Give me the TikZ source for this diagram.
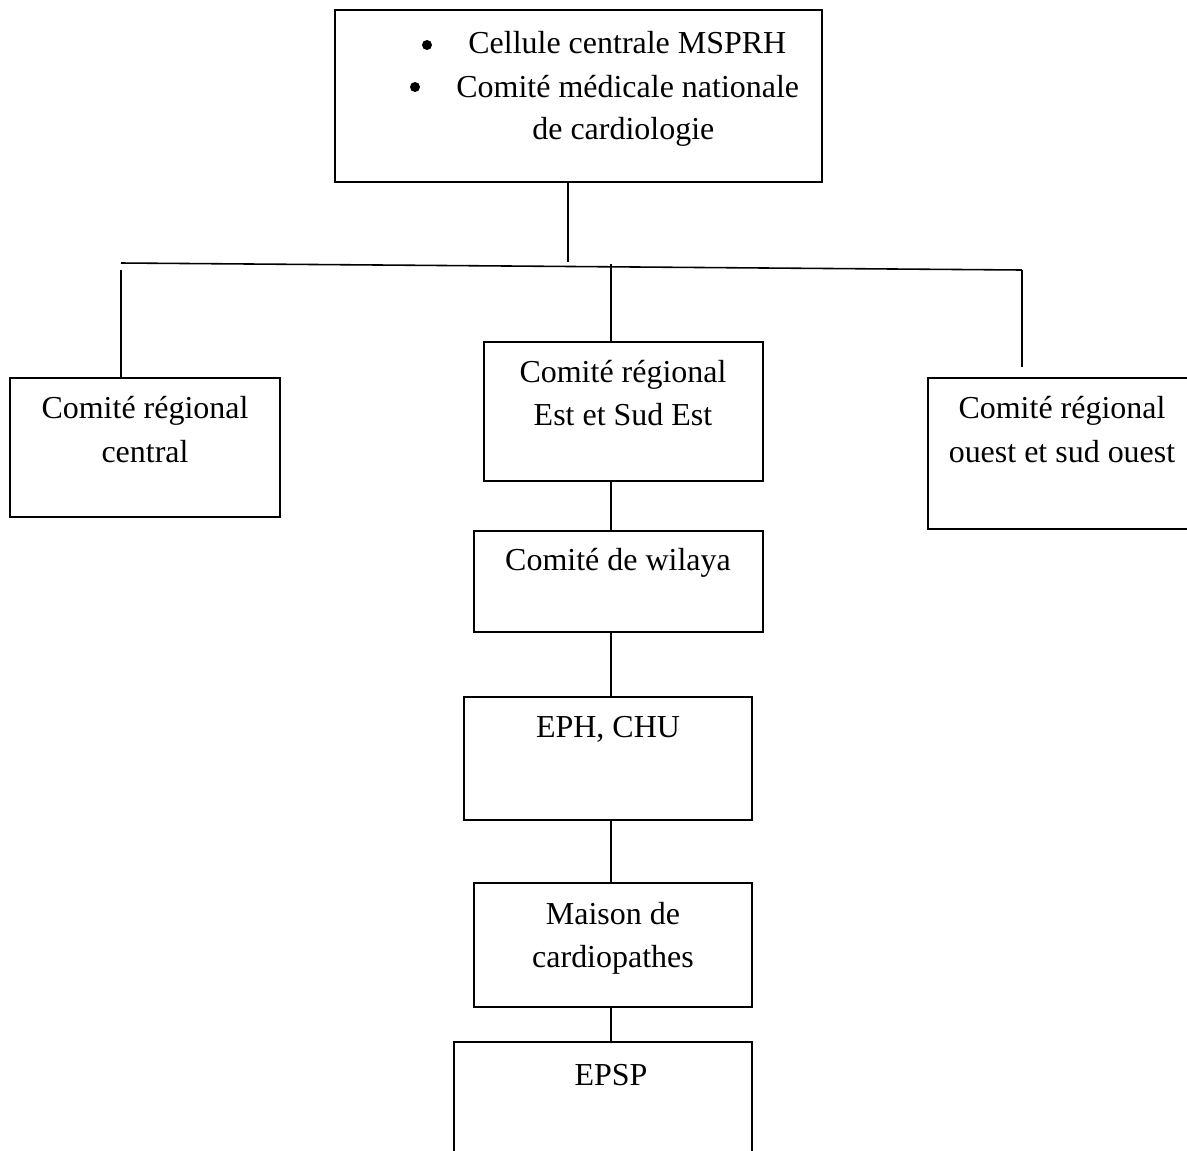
\documentclass[tikz,border=0pt]{standalone}
\usepackage{fontspec}
\setmainfont{Liberation Serif}
\begin{document}
\begin{tikzpicture}[x=0.02cm,y=-0.02cm,
  box/.style={draw, line width=0.9pt, rectangle, inner sep=0pt},
  txt/.style={anchor=base, inner sep=0pt, font=\fontsize{18.2}{24}\selectfont},
  bul/.style={circle, fill=black, inner sep=0pt, minimum size=10*0.02cm},
  conn/.style={line width=0.9pt}]
\clip (0,0) rectangle (1187,1150);
% boxes
\node[box, minimum width=487*0.02cm, minimum height=172*0.02cm] (top) at (578.5,96) {};
\node[box, minimum width=270*0.02cm, minimum height=139*0.02cm] (left) at (145,447.5) {};
\node[box, minimum width=279*0.02cm, minimum height=139*0.02cm] (mid) at (623.5,411.5) {};
\node[box, minimum width=290*0.02cm, minimum height=151*0.02cm] (right) at (1073,453.5) {};
\node[box, minimum width=289*0.02cm, minimum height=101*0.02cm] (wil) at (618.5,581.5) {};
\node[box, minimum width=288*0.02cm, minimum height=123*0.02cm] (eph) at (608,758.5) {};
\node[box, minimum width=278*0.02cm, minimum height=124*0.02cm] (mai) at (613,945) {};
\node[box, minimum width=298*0.02cm, minimum height=160*0.02cm] (epsp) at (603,1122) {};
% texts
\node[bul] (b1) at (427,45) {};
\node[txt, anchor=base west] (t1) at (468,53) {Cellule centrale MSPRH};
\node[bul] (b2) at (415,87) {};
\node[txt, anchor=base west] (t2) at (456,97) {Comité médicale nationale};
\node[txt, anchor=base west] (t3) at (532,139) {de cardiologie};
\node[txt] (l1) at (145,418) {Comité régional};
\node[txt] (l2) at (145,462) {central};
\node[txt] (m1) at (623,382) {Comité régional};
\node[txt] (m2) at (623,425) {Est et Sud Est};
\node[txt] (r1) at (1062,418) {Comité régional};
\node[txt] (r2) at (1062,462) {ouest et sud ouest};
\node[txt] (w1) at (618,570) {Comité de wilaya};
\node[txt] (e1) at (608,737) {EPH, CHU};
\node[txt] (ma1) at (613,924) {Maison de};
\node[txt] (ma2) at (613,967) {cardiopathes};
\node[txt] (ep1) at (611,1085) {EPSP};
% connectors
\coordinate (hl) at (121,263);
\coordinate (hr) at (1022,270);
\coordinate (hc) at (568,262);
\coordinate (lt) at (121,270);
\coordinate (mt) at (611,264);
\draw[conn] (hl) -- (hr);
\draw[conn] (top.south -| hc) -- (hc);
\draw[conn] (lt) -- (lt |- left.north);
\draw[conn] (mt) -- (mt |- mid.north);
\draw[conn] (hr) -- (1022,367);
\draw[conn] (611,481) -- (611,531);
\draw[conn] (611,632) -- (611,697);
\draw[conn] (611,820) -- (611,883);
\draw[conn] (611,1007) -- (611,1042);
\end{tikzpicture}
\end{document}
